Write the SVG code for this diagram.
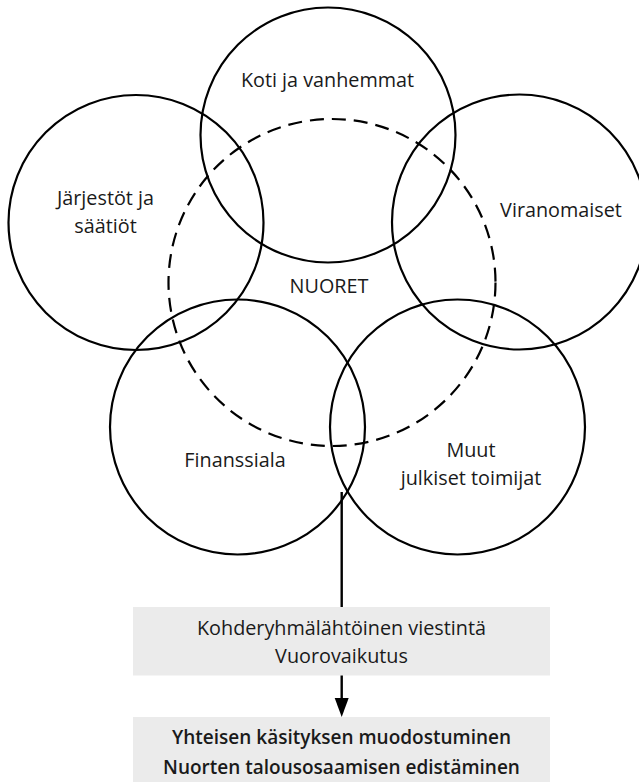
<svg xmlns="http://www.w3.org/2000/svg" width="639" height="782" viewBox="0 0 639 782">
<style>
.c{fill:none;stroke:#000;stroke-width:2.2}
.d{fill:none;stroke:#000;stroke-width:2.2;stroke-dasharray:14 8}
.t{font-family:"Open Sans","Noto Sans",sans-serif;font-size:19.8px;fill:#1a1a1a;text-anchor:middle}
.b{font-family:"Open Sans","Noto Sans",sans-serif;font-size:19px;font-weight:600;fill:#1a1a1a;text-anchor:middle}
.box{fill:#ebebeb}
.ln{stroke:#000;stroke-width:2.4;fill:none}
</style>
<rect width="639" height="782" fill="#fff"/>
<g id="nuoret">
<circle class="d" cx="332" cy="282.5" r="163.5"/>
<text class="t" x="329" y="293">NUORET</text>
</g>
<g id="koti">
<circle class="c" cx="328" cy="135" r="127.5"/>
<text class="t" x="327.5" y="87">Koti ja vanhemmat</text>
</g>
<g id="jarjestot">
<circle class="c" cx="136" cy="222.5" r="127.5"/>
<text class="t" x="105.5" y="205">Järjestöt ja</text>
<text class="t" x="105.5" y="233">säätiöt</text>
</g>
<g id="viranomaiset">
<circle class="c" cx="519.5" cy="222" r="127.5"/>
<text class="t" x="561" y="216.5">Viranomaiset</text>
</g>
<g id="finanssiala">
<circle class="c" cx="237.5" cy="427" r="127.5"/>
<text class="t" x="235" y="466.5">Finanssiala</text>
</g>
<g id="muut">
<circle class="c" cx="457.5" cy="427" r="127.5"/>
<text class="t" x="471" y="456.5">Muut</text>
<text class="t" x="471" y="485">julkiset toimijat</text>
</g>
<g id="viestinta">
<rect class="box" x="133" y="607" width="417" height="68.5"/>
<text class="t" x="341.5" y="635">Kohderyhmälähtöinen viestintä</text>
<text class="t" x="341.5" y="663">Vuorovaikutus</text>
</g>
<g id="tulos">
<rect class="box" x="133" y="717" width="417" height="65"/>
<text class="b" x="341.5" y="743.5">Yhteisen käsityksen muodostuminen</text>
<text class="b" x="341.5" y="773.5">Nuorten talousosaamisen edistäminen</text>
</g>
<g id="connectors">
<line class="ln" x1="341.7" y1="492" x2="341.7" y2="607"/>
<line class="ln" x1="341.7" y1="675.5" x2="341.7" y2="700"/>
<path d="M334.7,698 L348.7,698 L341.7,717 Z" fill="#000"/>
</g>
</svg>
